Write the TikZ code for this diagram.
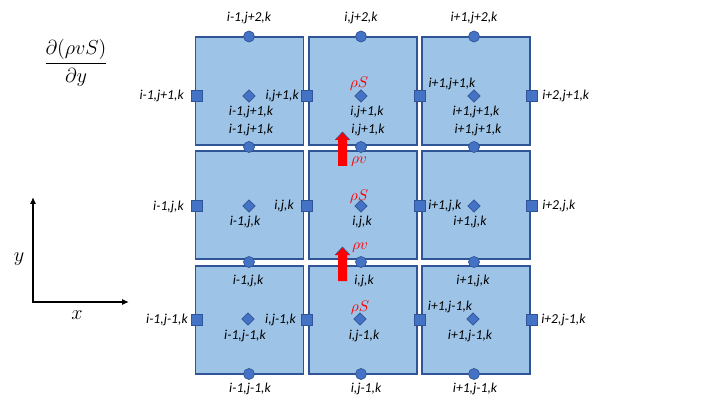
\documentclass[tikz,border=0pt]{standalone}
\usepackage{fontspec}
\setmainfont{Carlito}
\usetikzlibrary{arrows.meta, shapes.geometric}
\definecolor{CellBlue}{HTML}{9DC3E6}
\definecolor{EdgeBlue}{HTML}{2F5597}
\definecolor{DotBlue}{HTML}{4472C4}
\definecolor{FluxRed}{HTML}{FF0000}
\tikzset{
  cellbox/.style={draw=EdgeBlue, line width=0.75pt, fill=CellBlue, minimum width=2.7cm, minimum height=2.7cm, inner sep=0pt},
  facedot/.style={circle, draw=EdgeBlue, line width=0.5pt, fill=DotBlue, minimum size=0.275cm, inner sep=0pt},
  facesq/.style={rectangle, draw=EdgeBlue, line width=0.5pt, fill=DotBlue, minimum size=0.29cm, inner sep=0pt},
  centerdia/.style={diamond, draw=EdgeBlue, line width=0.5pt, fill=DotBlue, minimum size=0.31cm, inner sep=0pt},
  idx/.style={font=\fontsize{9.7}{11}\selectfont\itshape, inner sep=0pt},
  fluxlbl/.style={text=FluxRed, font=\fontsize{11}{13}\selectfont, inner sep=0pt},
  mathlbl/.style={font=\fontsize{14}{16}\selectfont, inner sep=0pt},
  axis/.style={{Latex[length=1.7mm,width=1.5mm]}-{Latex[length=1.7mm,width=1.5mm]}, line width=1.3pt},
  fluxarrow/.pic={
    \fill[FluxRed] (-4.5,34) -- (-4.5,8) -- (-7.5,8) -- (0,0) -- (7.5,8) -- (4.5,8) -- (4.5,34) -- cycle;
    \draw[EdgeBlue, line width=0.4pt] (-7.5,8) -- (0,0) -- (7.5,8);
  }
}

\begin{document}
\begin{tikzpicture}[x=0.025cm, y=-0.025cm]
\useasboundingbox (0,0) rectangle (720,405);

\node[mathlbl] (ddy) at (76,63) {$\displaystyle\frac{\partial(\rho v S)}{\partial y}$};

\coordinate (ytip) at (33,197);
\coordinate (orig) at (33,302);
\coordinate (xtip) at (129,302);
\draw[axis] (ytip) -- (orig) -- (xtip);
\node[mathlbl] (ylbl) at (19,259) {$y$};
\node[mathlbl] (xlbl) at (77,315) {$x$};

\node[cellbox] (lt) at (249.5,91) {};
\node[cellbox] (ct) at (363,91) {};
\node[cellbox] (rt) at (476,91) {};
\node[cellbox] (lm) at (249.5,205) {};
\node[cellbox] (cm) at (363,205) {};
\node[cellbox] (rm) at (476,205) {};
\node[cellbox] (lb) at (249.5,320) {};
\node[cellbox] (cb) at (363,320) {};
\node[cellbox] (rb) at (476,320) {};

\node[facedot] (ol0) at (249,36.5) {};
\node[facedot] (oc0) at (361,36.5) {};
\node[facedot] (or0) at (474,36.5) {};
\node[facedot] (ol1) at (249,147) {};
\node[facedot] (oc1) at (361,147) {};
\node[facedot] (or1) at (474,147) {};
\node[facedot] (ol2) at (249,262) {};
\node[facedot] (oc2) at (361,262) {};
\node[facedot] (or2) at (474,262) {};
\node[facedot] (ol3) at (249,374) {};
\node[facedot] (oc3) at (361,374) {};
\node[facedot] (or3) at (474,374) {};

\node[facesq] (st0) at (197,96) {};
\node[facesq] (st1) at (307,96) {};
\node[facesq] (st2) at (420,96) {};
\node[facesq] (st3) at (532,96) {};
\node[facesq] (sm0) at (197,206) {};
\node[facesq] (sm1) at (307,206) {};
\node[facesq] (sm2) at (420,206) {};
\node[facesq] (sm3) at (532,206) {};
\node[facesq] (sb0) at (197,320) {};
\node[facesq] (sb1) at (307,320) {};
\node[facesq] (sb2) at (420,320) {};
\node[facesq] (sb3) at (532,320) {};

\node[centerdia] (dlt) at (249,96) {};
\node[centerdia] (dct) at (361,96) {};
\node[centerdia] (drt) at (474,96) {};
\node[centerdia] (dlm) at (249,206) {};
\node[centerdia] (dcm) at (361,206) {};
\node[centerdia] (drm) at (474,206) {};
\node[centerdia] (dlb) at (248,319) {};
\node[centerdia] (dcb) at (360,319) {};
\node[centerdia] (drb) at (473,319) {};

\pic at (342.5,132) {fluxarrow};
\pic at (342.5,247) {fluxarrow};

\node[idx] (t0l) at (249,18) {i-1,j+2,k};
\node[idx] (t0c) at (361,18) {i,j+2,k};
\node[idx] (t0r) at (474,18) {i+1,j+2,k};

\node[idx, anchor=east] (tw0) at (184,96) {i-1,j+1,k};
\node[idx, anchor=east] (tw1) at (299,96) {i,j+1,k};
\node[idx] (tdl) at (251,112) {i-1,j+1,k};
\node[idx] (tbl) at (251,130) {i-1,j+1,k};
\node[fluxlbl] (rsct) at (359,84) {$\rho S$};
\node[idx] (tdc) at (367,112) {i,j+1,k};
\node[idx] (tbc) at (368,130) {i,j+1,k};
\node[idx] (tnr) at (452,84) {i+1,j+1,k};
\node[idx] (tdr) at (476,112) {i+1,j+1,k};
\node[idx] (tbr) at (478,130) {i+1,j+1,k};
\node[idx, anchor=west] (te3) at (542,96) {i+2,j+1,k};

\node[fluxlbl] (rv1) at (359,162) {$\rho v$};
\node[idx, anchor=east] (mw0) at (184,207) {i-1,j,k};
\node[idx, anchor=east] (mw1) at (294,206) {i,j,k};
\node[idx] (mdl) at (245,222) {i-1,j,k};
\node[fluxlbl] (rscm) at (359,197) {$\rho S$};
\node[idx] (mdc) at (362,222) {i,j,k};
\node[idx, anchor=west] (me2) at (428,206) {i+1,j,k};
\node[idx] (mdr) at (470,222) {i+1,j,k};
\node[idx, anchor=west] (me3) at (542,206) {i+2,j,k};

\node[fluxlbl] (rv2) at (360,248) {$\rho v$};
\node[idx] (btl) at (248,281) {i-1,j,k};
\node[idx] (btc) at (364,281) {i,j,k};
\node[idx] (btr) at (473,281) {i+1,j,k};
\node[idx, anchor=east] (bw0) at (188,320) {i-1,j-1,k};
\node[idx, anchor=east] (bw1) at (296,320) {i,j-1,k};
\node[idx] (bdl) at (245,336) {i-1,j-1,k};
\node[fluxlbl] (rscb) at (360,308) {$\rho S$};
\node[idx] (bdc) at (364,336) {i,j-1,k};
\node[idx] (bnr) at (450,307) {i+1,j-1,k};
\node[idx] (bdr) at (470,336) {i+1,j-1,k};
\node[idx, anchor=west] (be3) at (541,320) {i+2,j-1,k};
\node[idx] (b3l) at (250,389) {i-1,j-1,k};
\node[idx] (b3c) at (366,389) {i,j-1,k};
\node[idx] (b3r) at (475,389) {i+1,j-1,k};
\end{tikzpicture}
\end{document}
